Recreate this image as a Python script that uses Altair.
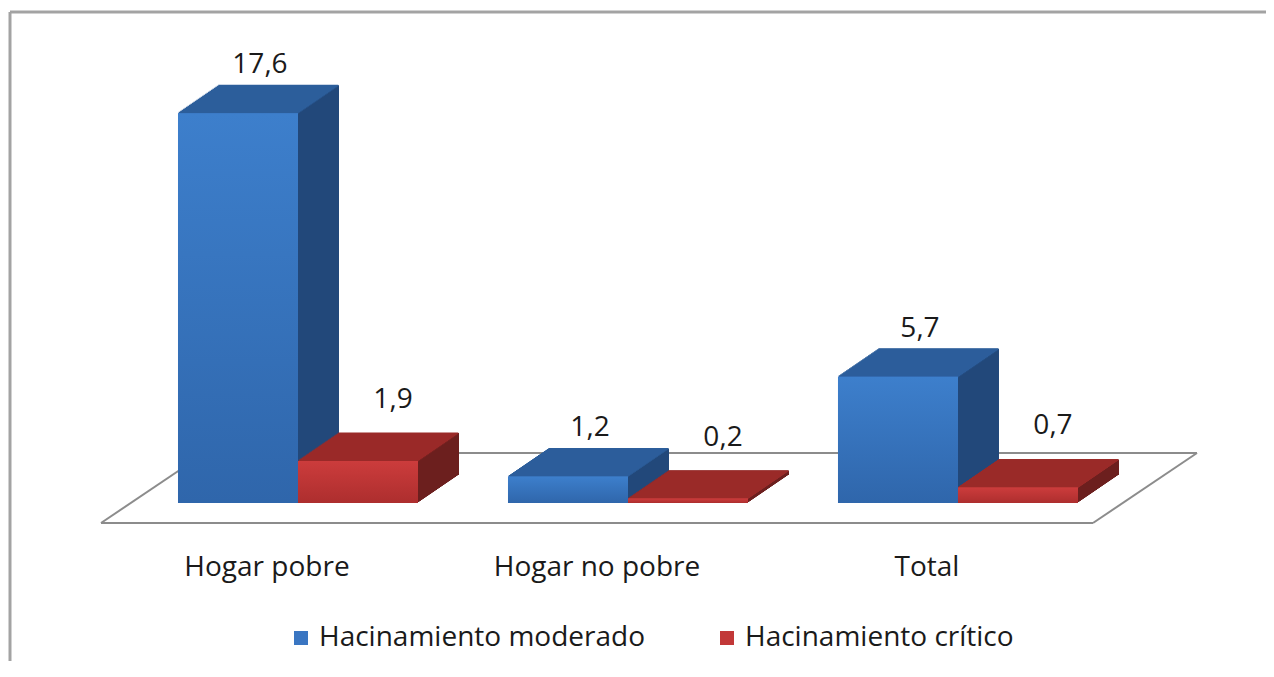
import altair as alt
import pandas as pd

# ---- data ----
categories = ["Hogar pobre", "Hogar no pobre", "Total"]
series = ["Hacinamiento moderado", "Hacinamiento crítico"]
moderado = [17.6, 1.2, 5.7]
critico = [1.9, 0.2, 0.7]

rows = []
for c, m, k in zip(categories, moderado, critico):
    rows.append({"categoria": c, "serie": series[0], "valor": m})
    rows.append({"categoria": c, "serie": series[1], "valor": k})
df = pd.DataFrame(rows)

FONT = "Open Sans"
TXT = "#1a1a1a"
FS = 28
W, H = 1256, 491
DX, DY, N = 41, 28, 28

styles = {
    series[0]: dict(base=-60, front=("#3d7fcc", "#2f66ab"), legend="#3a76c2",
                    top="#2c5e9b", side="#22487a", dx=-38, dy=-40),
    series[1]: dict(base=60, front=("#cc3c3c", "#ad2e2e"), legend="#c23838",
                    top="#9a2a28", side="#6c1f1e", dx=95, dy=-53),
}

x_scale = alt.Scale(domain=categories, paddingInner=0.2727, paddingOuter=0.5394, align=0.4719)
y_scale = alt.Scale(domain=[0, 22.17], nice=False, zero=True)

X = alt.X("categoria:N", scale=x_scale, sort=categories,
          axis=alt.Axis(title=None, domain=False, ticks=False, grid=False, labelAngle=0,
                        labelFont=FONT, labelFontSize=FS, labelColor=TXT, labelLimit=0,
                        labelPadding=50, labelOffset=-31))
Y = alt.Y("valor:Q", scale=y_scale, axis=None)
COLOR = alt.Color("serie:N", scale=alt.Scale(domain=series,
                  range=[styles[s]["legend"] for s in series]),
                  legend=alt.Legend(title=None, orient="none", direction="horizontal",
                                    legendX=277, legendY=612, symbolType="square",
                                    symbolSize=196, symbolStrokeWidth=0, labelLimit=0,
                                    labelFont=FONT, labelFontSize=FS, labelColor=TXT,
                                    labelOffset=4, columnPadding=68))

one = pd.DataFrame({"k": [0]})
deco = []
# frame (left and top edges)
deco.append(alt.Chart(one).mark_rule(color="#a3a3a3", strokeWidth=3).encode(
    x=alt.value(0), y=alt.value(0), y2=alt.value(H + 170)))
deco.append(alt.Chart(one).mark_rule(color="#a3a3a3", strokeWidth=3).encode(
    x=alt.value(0), x2=alt.value(W + 2), y=alt.value(0)))
# floor parallelogram
floor_style = dict(color="#8c8c8c", strokeWidth=2)
deco.append(alt.Chart(one).mark_rule(**floor_style).encode(
    x=alt.value(91), x2=alt.value(1083), y=alt.value(511), y2=alt.value(511)))
deco.append(alt.Chart(one).mark_rule(**floor_style).encode(
    x=alt.value(195), x2=alt.value(1187), y=alt.value(441), y2=alt.value(441)))
deco.append(alt.Chart(one).mark_rule(**floor_style).encode(
    x=alt.value(91), x2=alt.value(195), y=alt.value(511), y2=alt.value(441)))
deco.append(alt.Chart(one).mark_rule(**floor_style).encode(
    x=alt.value(1083), x2=alt.value(1187), y=alt.value(511), y2=alt.value(441)))

bars = []
for s in series:
    st = styles[s]
    base = alt.Chart(df).transform_filter(alt.datum.serie == s)
    # side extrusion
    for i in range(1, N + 1):
        off_x = st["base"] + i * DX / N
        off_y = -i * DY / N
        bars.append(base.mark_bar(width=alt.RelativeBandSize(0.5), color=st["side"],
                                  xOffset=off_x, yOffset=off_y, y2Offset=off_y).encode(x=X, y=Y))
    # top face strips
    for i in range(N):
        off_x = st["base"] + (i + 0.5) * DX / N
        y_top = -(i + 1) * DY / N - 0.4
        y_bot = -i * DY / N + 0.4
        bars.append(base.mark_bar(width=alt.RelativeBandSize(0.5), color=st["top"],
                                  xOffset=off_x, yOffset=y_top, y2Offset=y_bot).encode(
            x=X, y=Y, y2=alt.Y2("valor:Q")))
    # front face (carries the legend colour)
    bars.append(base.mark_bar(width=alt.RelativeBandSize(0.5), xOffset=st["base"]).encode(
        x=X, y=Y, color=COLOR))
    # gradient overlay on the front face
    bars.append(base.mark_bar(width=alt.RelativeBandSize(0.5), xOffset=st["base"],
                              fill=alt.Gradient(gradient="linear", x1=0, x2=0, y1=0, y2=1,
                                                stops=[alt.GradientStop(color=st["front"][0], offset=0),
                                                       alt.GradientStop(color=st["front"][1], offset=1)])
                              ).encode(x=X, y=Y))

labels = []
for s in series:
    st = styles[s]
    labels.append(alt.Chart(df).transform_filter(alt.datum.serie == s).transform_calculate(
        etiqueta="replace(format(datum.valor, '.1f'), '.', ',')"
    ).mark_text(font=FONT, fontSize=FS, color=TXT, align="center", baseline="alphabetic",
                dx=st["dx"], dy=st["dy"]).encode(x=X, y=Y, text="etiqueta:N"))

chart = alt.layer(*deco, *bars, *labels).properties(
    width=W, height=H,
    autosize=alt.AutoSizeParams(type="none"),
    padding={"left": 2, "top": 4, "right": 0, "bottom": 158},
).configure(background="white").configure_view(stroke=None)

chart.save("out.html", embed_options={"renderer": "svg", "actions": False})
